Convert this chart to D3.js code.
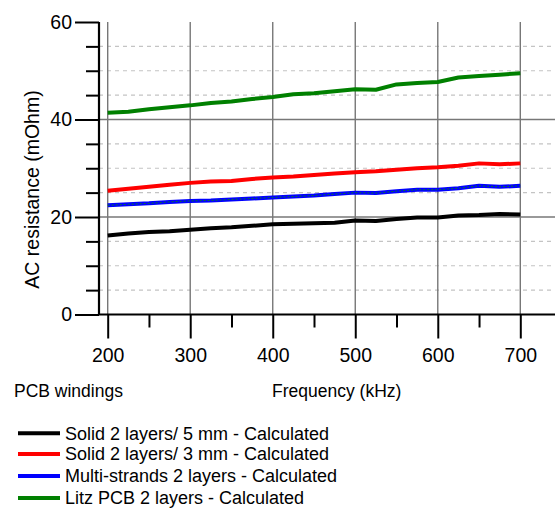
<!DOCTYPE html>
<html>
<head>
<meta charset="utf-8">
<script src="https://cdn.jsdelivr.net/npm/d3@7"></script>
<style>
  html, body { margin: 0; padding: 0; background: #fff; }
  svg { display: block; font-family: "Liberation Sans", Arial, sans-serif; }
</style>
</head>
<body>
<svg id="chart" width="555" height="508"></svg>
<script>
// Frequency sweep (kHz)
const freq = [200, 225, 250, 275, 300, 325, 350, 375, 400, 425, 450, 475, 500, 525, 550, 575, 600, 625, 650, 675, 700];

// Calculated AC resistance (mOhm) per winding type
const solid5mm = [16.2, 16.6, 16.9, 17.1, 17.4, 17.7, 17.9, 18.2, 18.5, 18.6, 18.7, 18.8, 19.3, 19.2, 19.6, 19.9, 19.9, 20.3, 20.4, 20.6, 20.5];
const solid3mm = [25.4, 25.8, 26.2, 26.6, 27.0, 27.3, 27.4, 27.8, 28.1, 28.3, 28.6, 28.9, 29.2, 29.4, 29.7, 30.0, 30.2, 30.5, 31.0, 30.8, 31.0];
const multiStrands = [22.4, 22.6, 22.8, 23.1, 23.3, 23.4, 23.6, 23.8, 24.0, 24.2, 24.4, 24.7, 25.0, 24.9, 25.3, 25.6, 25.6, 25.9, 26.4, 26.2, 26.4];
const litzPcb = [41.4, 41.6, 42.1, 42.5, 42.9, 43.4, 43.7, 44.2, 44.6, 45.2, 45.4, 45.8, 46.2, 46.1, 47.2, 47.5, 47.7, 48.6, 48.9, 49.2, 49.5];

const seriesNames = [
  "Solid 2 layers/ 5 mm - Calculated",
  "Solid 2 layers/ 3 mm - Calculated",
  "Multi-strands 2 layers - Calculated",
  "Litz PCB 2 layers - Calculated"
];
const seriesColors = ["#000000", "#ff0000", "#0000ff", "#008000"];
const seriesValues = [solid5mm, solid3mm, multiStrands, litzPcb];

const xTicksMajor = [200, 300, 400, 500, 600, 700];
const xTicksMinor = [250, 350, 450, 550, 650];
const yTicksMajor = [0, 20, 40, 60];
const yTicksMinor = [5, 10, 15, 25, 30, 35, 45, 50, 55];

const xAxisTitle = "Frequency (kHz)";
const yAxisTitle = "AC resistance (mOhm)";
const cornerNote = "PCB windings";

const svg = d3.select("#chart");
const axisX0 = 99, plotRight = 555;

const x = d3.scaleLinear().domain([200, 700]).range([107.7, 520.3]);
const y = d3.scaleLinear().domain([0, 60]).range([314.5, 22]);

// Grid: dashed minor rows, solid major rows and columns
const grid = svg.append("g");
grid.selectAll(".gmin").data(yTicksMinor).join("line")
  .attr("x1", axisX0).attr("x2", plotRight)
  .attr("y1", d => y(d)).attr("y2", d => y(d))
  .attr("stroke", "#c4c4c4").attr("stroke-width", 1.2).attr("stroke-dasharray", "4,4");
grid.selectAll(".gmaj").data([20, 40]).join("line")
  .attr("x1", axisX0).attr("x2", plotRight)
  .attr("y1", d => y(d)).attr("y2", d => y(d))
  .attr("stroke", "#777").attr("stroke-width", 1.4);
grid.selectAll(".gv").data(xTicksMajor).join("line")
  .attr("x1", d => x(d)).attr("x2", d => x(d))
  .attr("y1", y(60)).attr("y2", y(0))
  .attr("stroke", "#777").attr("stroke-width", 1.4);

// Series lines
const line = d3.line().x((d, i) => x(freq[i])).y(d => y(d));
seriesValues.forEach((vals, k) => {
  svg.append("path").datum(vals)
    .attr("d", line)
    .attr("fill", "none")
    .attr("stroke", seriesColors[k])
    .attr("stroke-width", 4)
    .attr("stroke-linejoin", "round");
});
// thin green trace along the multi-strand curve
svg.append("path").datum(multiStrands)
  .attr("d", line).attr("fill", "none")
  .attr("stroke", "#0a7a2a").attr("stroke-width", 1).attr("stroke-dasharray", "2,2");

// Axes
const yAxisMaj = d3.axisLeft(y).tickValues(yTicksMajor).tickSize(24).tickPadding(3).tickFormat(d3.format("d"));
const yAxisMin = d3.axisLeft(y).tickValues(yTicksMinor).tickSize(13).tickFormat("");
const gy = svg.append("g").attr("transform", `translate(${axisX0},0)`);
gy.call(yAxisMaj);
gy.append("g").call(yAxisMin);
const gx = svg.append("g").attr("transform", `translate(0,${y(0)})`);
gx.call(d3.axisBottom(x).tickValues(xTicksMajor).tickSize(24).tickPadding(10).tickFormat(d3.format("d")));
gx.append("g").call(d3.axisBottom(x).tickValues(xTicksMinor).tickSize(13).tickFormat(""));

[gy, gx].forEach(g => {
  g.selectAll(".domain").remove();
  g.selectAll("line").attr("stroke", "#000").attr("stroke-width", 2);
  g.selectAll("text").attr("font-size", 19.5).attr("fill", "#000")
    .attr("font-family", "'Liberation Sans', Arial, sans-serif");
});
gx.selectAll("text").attr("dy", "0.71em");

// Axis lines
svg.append("line").attr("x1", axisX0).attr("x2", axisX0).attr("y1", y(60)).attr("y2", y(0))
  .attr("stroke", "#000").attr("stroke-width", 2.2);
svg.append("line").attr("x1", axisX0).attr("x2", plotRight).attr("y1", y(0)).attr("y2", y(0))
  .attr("stroke", "#000").attr("stroke-width", 2.2);

// Titles
svg.append("text").attr("transform", "translate(39,189.5) rotate(-90)")
  .attr("text-anchor", "middle").attr("font-size", 19.5).text(yAxisTitle);
svg.append("text").attr("x", 336.7).attr("y", 397).attr("text-anchor", "middle")
  .attr("font-size", 17.5).text(xAxisTitle);
svg.append("text").attr("x", 14).attr("y", 397).attr("font-size", 17.5).text(cornerNote);

// Legend
const legY = [433.3, 454, 476, 498];
const leg = svg.append("g");
seriesNames.forEach((name, k) => {
  leg.append("line").attr("x1", 18).attr("x2", 60).attr("y1", legY[k]).attr("y2", legY[k])
    .attr("stroke", seriesColors[k]).attr("stroke-width", 4);
  leg.append("text").attr("x", 65).attr("y", legY[k] + 6.3).attr("font-size", 18).text(name);
});
</script>
</body>
</html>
